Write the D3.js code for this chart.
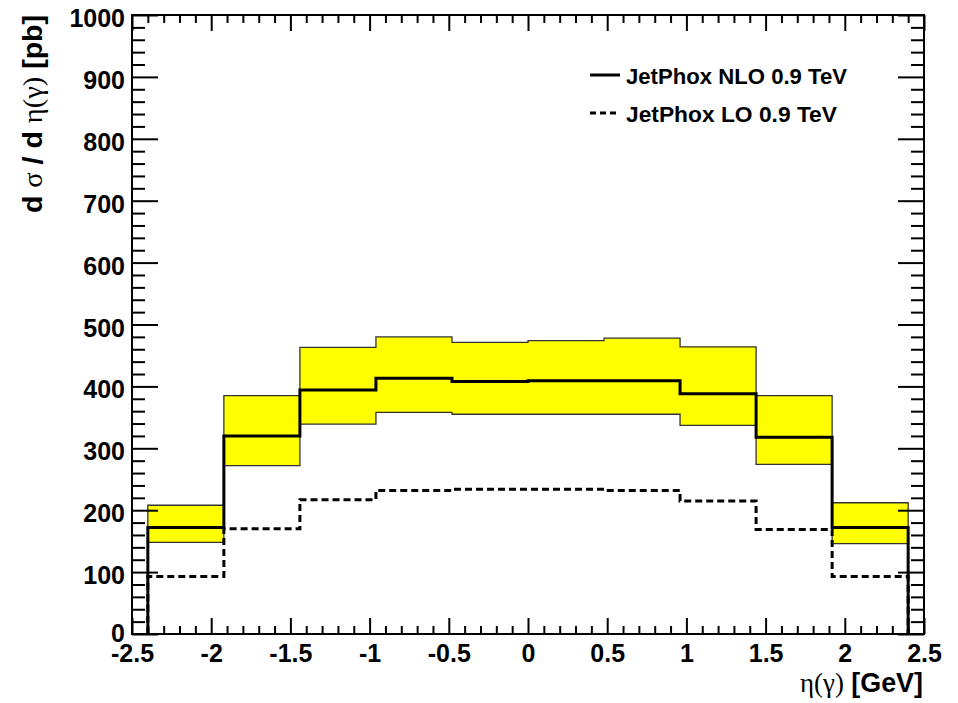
<!DOCTYPE html>
<html>
<head>
<meta charset="utf-8">
<script src="https://cdn.jsdelivr.net/npm/d3@7"></script>
<style>
  body { margin: 0; background: #fff; }
  svg { display: block; font-family: "Liberation Sans", Arial, Helvetica, sans-serif; }
</style>
</head>
<body>
<svg id="chart" width="958" height="703"></svg>
<script>
// bin edges in eta(gamma)
const binEdges = [-2.4, -1.92, -1.44, -0.96, -0.48, 0, 0.48, 0.96, 1.44, 1.92, 2.4];
// JetPhox NLO central value, scale band upper / lower edge, and LO
const nloValues = [172, 320, 394, 413, 408, 409, 409, 388, 318, 172];
const nloUpper  = [208, 385, 463, 480, 471, 474, 478, 464, 385, 212];
const nloLower  = [148, 272, 339, 358, 355, 355, 355, 337, 274, 146];
const loValues  = [93, 170, 217, 232, 234, 234, 232, 215, 169, 93];
const xTicks = [-2.5, -2, -1.5, -1, -0.5, 0, 0.5, 1, 1.5, 2, 2.5];
const yTicks = [0, 100, 200, 300, 400, 500, 600, 700, 800, 900, 1000];
const legendLabels = ['JetPhox NLO 0.9 TeV', 'JetPhox LO 0.9 TeV'];

const width = 958, height = 703;
const margin = {top: 15, right: 34, bottom: 69, left: 132};
const svg = d3.select('#chart');

const x = d3.scaleLinear().domain([-2.5, 2.5]).range([margin.left, width - margin.right]);
const y = d3.scaleLinear().domain([0, 1000]).range([height - margin.bottom, margin.top]);

const line = d3.line().x(d => x(d[0])).y(d => y(d[1]));

// step outline of a histogram, dropping to zero at both ends
function histPoints(vals) {
    const pts = [[binEdges[0], 0]];
    vals.forEach((v, i) => { pts.push([binEdges[i], v], [binEdges[i + 1], v]); });
    pts.push([binEdges[binEdges.length - 1], 0]);
    return pts;
}

// band polygon: upper steps left to right, lower steps back
const bandPts = [];
nloUpper.forEach((v, i) => bandPts.push([binEdges[i], v], [binEdges[i + 1], v]));
for (let i = nloLower.length - 1; i >= 0; i--) {
    bandPts.push([binEdges[i + 1], nloLower[i]], [binEdges[i], nloLower[i]]);
}

svg.append('path')
    .attr('d', line(bandPts) + 'Z')
    .attr('fill', '#ffff00')
    .attr('stroke', '#333')
    .attr('stroke-width', 1.3);

svg.append('path')
    .attr('d', line(histPoints(loValues)))
    .attr('fill', 'none')
    .attr('stroke', '#000')
    .attr('stroke-width', 3)
    .attr('stroke-dasharray', '7,4');

svg.append('path')
    .attr('d', line(histPoints(nloValues)))
    .attr('fill', 'none')
    .attr('stroke', '#000')
    .attr('stroke-width', 3);

// axes with inward ticks (major + minor), ROOT style
const x0 = margin.left, x1 = width - margin.right;
const y0 = height - margin.bottom, y1 = margin.top;
const xMinor = d3.range(-25, 26).map(k => k / 10).filter(v => !xTicks.includes(v));
const yMinor = d3.range(0, 1001, 20).filter(v => v % 100 !== 0);
const plain = d => String(d);   // hyphen minus, no thousands comma

function styleAxis(g) {
    g.select('.domain').remove();
    g.selectAll('line').attr('stroke', '#000').attr('stroke-width', 2);
}

const gx = svg.append('g').attr('transform', `translate(0,${y0})`)
    .call(d3.axisBottom(x).tickValues(xTicks).tickSizeInner(-16).tickSizeOuter(0).tickFormat(plain))
    .call(styleAxis);
gx.selectAll('text')
    .attr('font-size', 25).attr('font-weight', 'bold').attr('fill', '#000')
    .attr('y', 28).attr('dy', null);
svg.append('g').attr('transform', `translate(0,${y0})`)
    .call(d3.axisBottom(x).tickValues(xMinor).tickSizeInner(-8).tickSizeOuter(0).tickFormat(''))
    .call(styleAxis);

svg.append('g').attr('transform', `translate(0,${y1})`)
    .call(d3.axisTop(x).tickValues(xTicks).tickSizeInner(-16).tickSizeOuter(0).tickFormat(''))
    .call(styleAxis);
svg.append('g').attr('transform', `translate(0,${y1})`)
    .call(d3.axisTop(x).tickValues(xMinor).tickSizeInner(-8).tickSizeOuter(0).tickFormat(''))
    .call(styleAxis);

const gy = svg.append('g').attr('transform', `translate(${x0},0)`)
    .call(d3.axisLeft(y).tickValues(yTicks).tickSizeInner(-26).tickSizeOuter(0).tickPadding(7).tickFormat(plain))
    .call(styleAxis);
gy.selectAll('text')
    .attr('font-size', 25).attr('font-weight', 'bold').attr('fill', '#000')
    .attr('dy', d => d === 0 ? '0.28em' : '0.46em');
svg.append('g').attr('transform', `translate(${x0},0)`)
    .call(d3.axisLeft(y).tickValues(yMinor).tickSizeInner(-13).tickSizeOuter(0).tickFormat(''))
    .call(styleAxis);

svg.append('g').attr('transform', `translate(${x1},0)`)
    .call(d3.axisRight(y).tickValues(yTicks).tickSizeInner(-26).tickSizeOuter(0).tickFormat(''))
    .call(styleAxis);
svg.append('g').attr('transform', `translate(${x1},0)`)
    .call(d3.axisRight(y).tickValues(yMinor).tickSizeInner(-13).tickSizeOuter(0).tickFormat(''))
    .call(styleAxis);

// frame
svg.append('rect')
    .attr('x', x0).attr('y', y1)
    .attr('width', x1 - x0).attr('height', y0 - y1)
    .attr('fill', 'none').attr('stroke', '#000').attr('stroke-width', 2);

// axis titles
const xTitle = svg.append('text')
    .attr('x', 923).attr('y', 692)
    .attr('text-anchor', 'end')
    .attr('font-size', 27).attr('font-weight', 'bold')
    .attr('textLength', 123).attr('lengthAdjust', 'spacingAndGlyphs');
xTitle.append('tspan').attr('font-family', '"Liberation Serif", serif').attr('font-weight', 'normal').text('η(γ)');
xTitle.append('tspan').text(' [GeV]');

const yTitle = svg.append('text')
    .attr('transform', 'translate(42,15) rotate(-90)')
    .attr('text-anchor', 'end')
    .attr('font-size', 28).attr('font-weight', 'bold')
    .attr('textLength', 198).attr('lengthAdjust', 'spacingAndGlyphs');
yTitle.append('tspan').text('d ');
yTitle.append('tspan').attr('font-family', '"Liberation Serif", serif').attr('font-weight', 'normal').text('σ');
yTitle.append('tspan').text(' / d ');
yTitle.append('tspan').attr('font-family', '"Liberation Serif", serif').attr('font-weight', 'normal').text('η(γ)');
yTitle.append('tspan').text(' [pb]');

// legend
const legendWidths = [221, 211];
const legend = svg.append('g');
legendLabels.forEach((label, i) => {
    const ly = 75 + i * 38;
    legend.append('line')
        .attr('x1', 590).attr('x2', 620).attr('y1', ly).attr('y2', ly)
        .attr('stroke', '#000').attr('stroke-width', 3)
        .attr('stroke-dasharray', i === 0 ? null : '6,4');
    legend.append('text')
        .attr('x', 626).attr('y', ly + 8.5)
        .attr('font-size', 22).attr('font-weight', 'bold')
        .attr('textLength', legendWidths[i]).attr('lengthAdjust', 'spacingAndGlyphs')
        .text(label);
});
</script>
</body>
</html>
